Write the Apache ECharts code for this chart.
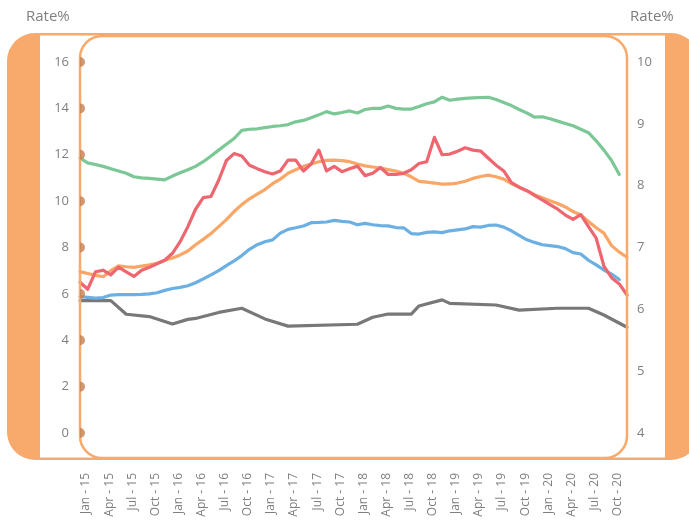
<!DOCTYPE html>
<html><head><meta charset="utf-8">
<script src="https://cdn.jsdelivr.net/npm/echarts@6/dist/echarts.min.js"></script>
<style>html,body{margin:0;padding:0;background:#fff}#c{width:689px;height:522px}</style>
</head><body><div id="c"></div>
<script>
const monthNames = ['Jan','Feb','Mar','Apr','May','Jun','Jul','Aug','Sep','Oct','Nov','Dec'];
const years = ['15','16','17','18','19','20'];
const categories = years.flatMap(y => monthNames.map(m => m + ' - ' + y));
const leftTicks = [0, 2, 4, 6, 8, 10, 12, 14, 16];
const rightTicks = [4, 5, 6, 7, 8, 9, 10];
const axisTitle = 'Rate%';

const green = [11.85,11.65,11.58,11.5,11.4,11.3,11.2,11.05,11.0,10.98,10.95,10.92,
  11.08,11.22,11.35,11.5,11.7,11.95,12.2,12.45,12.7,13.05,13.1,13.12,
  13.17,13.22,13.25,13.3,13.42,13.48,13.6,13.72,13.86,13.76,13.82,13.89,
  13.8,13.95,14.0,14.0,14.1,14.0,13.97,13.97,14.08,14.2,14.28,14.48,
  14.35,14.4,14.43,14.45,14.47,14.48,14.38,14.25,14.12,13.95,13.8,13.62,
  13.64,13.55,13.45,13.35,13.25,13.1,12.95,12.6,12.2,11.75,11.15,null];
const red = [6.5,6.2,6.95,7.02,6.82,7.15,6.95,6.75,7.02,7.15,7.3,7.45,
  7.75,8.25,8.9,9.65,10.15,10.2,10.9,11.75,12.05,11.95,11.55,11.4,
  11.27,11.17,11.3,11.77,11.77,11.3,11.6,12.2,11.3,11.5,11.27,11.4,
  11.51,11.1,11.2,11.45,11.15,11.15,11.2,11.35,11.62,11.7,12.75,12.0,
  12.03,12.15,12.3,12.2,12.16,11.85,11.55,11.3,10.8,10.6,10.45,10.25,
  10.05,9.85,9.65,9.4,9.21,9.42,8.9,8.4,7.2,6.7,6.43,5.95];
const orange = [6.96,6.88,6.8,6.74,7.0,7.21,7.17,7.14,7.2,7.25,7.32,7.45,
  7.55,7.68,7.85,8.12,8.35,8.6,8.9,9.2,9.55,9.85,10.1,10.3,
  10.5,10.75,10.95,11.2,11.35,11.5,11.6,11.7,11.76,11.77,11.75,11.7,
  11.6,11.52,11.47,11.42,11.36,11.3,11.2,11.05,10.85,10.82,10.78,10.73,
  10.74,10.78,10.86,10.98,11.06,11.12,11.05,10.95,10.76,10.6,10.45,10.28,
  10.15,10.02,9.9,9.75,9.55,9.4,9.12,8.85,8.62,8.08,7.8,7.58];
const blue = [5.88,5.85,5.82,5.84,5.95,5.97,5.97,5.97,5.98,6.0,6.05,6.15,
  6.23,6.28,6.35,6.48,6.65,6.82,7.0,7.22,7.42,7.65,7.92,8.12,
  8.25,8.33,8.62,8.78,8.85,8.93,9.07,9.08,9.1,9.17,9.13,9.1,
  8.98,9.04,8.98,8.94,8.93,8.86,8.85,8.6,8.58,8.65,8.67,8.64,
  8.72,8.76,8.8,8.9,8.88,8.95,8.97,8.88,8.72,8.52,8.33,8.22,
  8.12,8.08,8.04,7.95,7.78,7.72,7.45,7.25,7.03,6.85,6.62,null];
const grey = [5.71,null,null,null,5.71,null,5.12,null,null,5.02,null,null,
  4.7,null,4.9,4.94,null,null,5.2,null,null,5.38,null,null,
  4.92,null,null,4.61,null,null,null,null,null,null,null,null,
  4.69,null,4.99,null,5.13,null,null,5.13,5.48,null,null,5.74,
  5.59,null,null,null,null,null,5.52,null,null,5.3,null,null,
  null,null,5.38,null,null,null,5.38,null,5.09,null,null,4.56];

const frameColor = '#f8a96c';
const labelColor = '#7f7f7f';
const fontFam = '"Open Sans", "DejaVu Sans", sans-serif';

const chart = echarts.init(document.getElementById('c'), null, {renderer: 'canvas'});

function lineSeries(name, data, color, z) {
  return {
    name, type: 'line', data, yAxisIndex: 0, showSymbol: false, symbol: 'none',
    connectNulls: true, z,
    lineStyle: {color, width: 3.2, join: 'round', cap: 'round'},
    itemStyle: {color}
  };
}

chart.setOption({
  animation: false,
  backgroundColor: '#fff',
  graphic: [
    {type: 'rect', z: -10, silent: true, shape: {x: 7, y: 33, width: 692, height: 427, r: 28}, style: {fill: frameColor}},
    {type: 'rect', z: -9, silent: true, shape: {x: 40, y: 35.5, width: 625, height: 422}, style: {fill: '#fff'}},
    {type: 'rect', z: 10, silent: true, shape: {x: 80, y: 36, width: 547, height: 422, r: 22}, style: {fill: 'none', stroke: frameColor, lineWidth: 2.5}},
    {type: 'text', z: 10, silent: true, left: 26, top: 9, style: {text: axisTitle, fill: labelColor, font: '15px ' + fontFam}},
    {type: 'text', z: 10, silent: true, left: 630, top: 9, style: {text: axisTitle, fill: labelColor, font: '15px ' + fontFam}}
  ],
  grid: {left: 80, right: 62, top: 62, bottom: 89, containLabel: false},
  xAxis: {
    type: 'category', data: categories, boundaryGap: false,
    axisLine: {show: false}, axisTick: {show: false}, splitLine: {show: false},
    axisLabel: {interval: 2, rotate: 90, margin: 40, color: labelColor, fontSize: 12, fontFamily: fontFam, verticalAlign: 'top'}
  },
  yAxis: [
    {type: 'value', min: 0, max: 16, interval: 2, position: 'left',
     axisLine: {show: false}, axisTick: {show: false}, splitLine: {show: false},
     axisLabel: {margin: 11, color: labelColor, fontSize: 13, fontFamily: fontFam}},
    {type: 'value', min: 4, max: 10, interval: 1, position: 'right',
     axisLine: {show: false}, axisTick: {show: false}, splitLine: {show: false},
     axisLabel: {margin: 10, color: labelColor, fontSize: 13, fontFamily: fontFam}}
  ],
  series: [
    lineSeries('Grey', grey, '#787878', 2),
    lineSeries('Blue', blue, '#6cb0e3', 3),
    lineSeries('Orange', orange, '#f9a666', 4),
    lineSeries('Green', green, '#7cc796', 5),
    lineSeries('Red', red, '#ee6670', 6),
    {type: 'scatter', name: 'ticks', z: 11, silent: true, clip: false,
     data: leftTicks.map(v => [0, v]),
     symbol: 'path://M0,0 A1,1 0 0,1 0,2 Z', symbolSize: [5, 10], symbolOffset: [2.5, 0],
     itemStyle: {color: '#c4804f'}}
  ]
});
</script></body></html>
